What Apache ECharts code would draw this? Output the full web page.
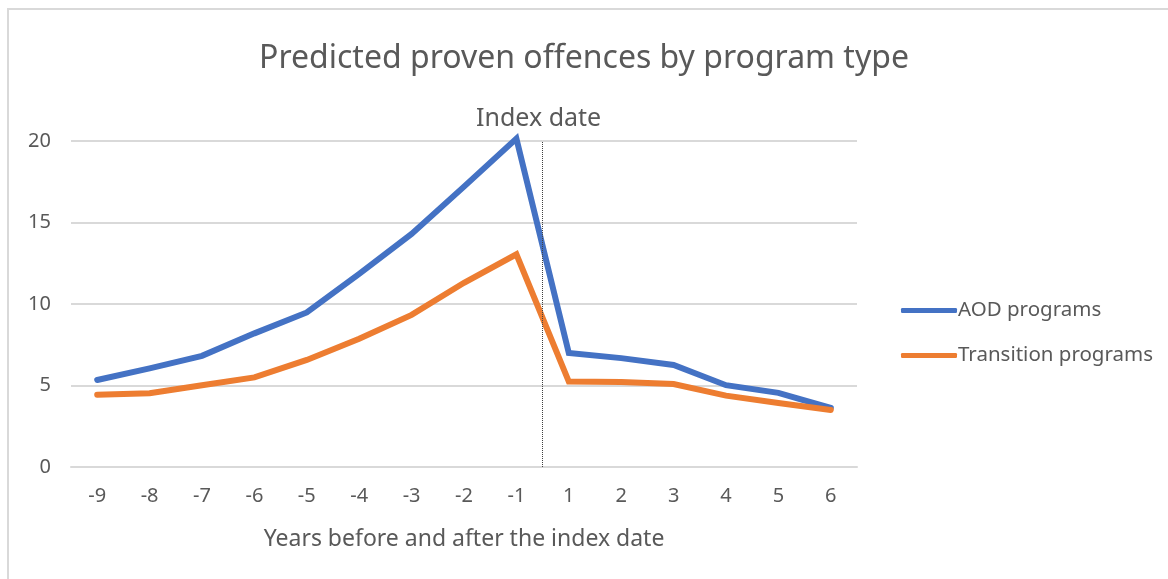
<!DOCTYPE html>
<html>
<head>
<meta charset="utf-8">
<script src="https://cdn.jsdelivr.net/npm/echarts@6/dist/echarts.min.js"></script>
<style>
  html, body { margin: 0; padding: 0; background: #fff; }
  #chart { position: absolute; left: 0; top: 0; width: 1168px; height: 579px; }
  #frame { position: absolute; left: 7px; top: 8px; width: 1170px; height: 580px;
           border-top: 2px solid #d9d9d9; border-left: 2px solid #d9d9d9; pointer-events: none; }
</style>
</head>
<body>
<div id="chart"></div>
<div id="frame"></div>
<script>
var years = ['-9', '-8', '-7', '-6', '-5', '-4', '-3', '-2', '-1', '1', '2', '3', '4', '5', '6'];
var aodPrograms = [5.34, 6.05, 6.82, 8.2, 9.48, 11.85, 14.3, 17.2, 20.15, 6.99, 6.68, 6.26, 5.02, 4.55, 3.62];
var transitionPrograms = [4.44, 4.52, 5.02, 5.5, 6.57, 7.87, 9.33, 11.3, 13.05, 5.24, 5.22, 5.09, 4.38, 3.93, 3.5];
var indexDatePos = 8.5; // between -1 and 1

var textColor = '#595959';
var fontFam = '"Noto Sans", sans-serif';

var myChart = echarts.init(document.getElementById('chart'));

var option = {
    animation: false,
    textStyle: { fontFamily: fontFam, color: textColor },
    title: {
        text: 'Predicted proven offences by program type',
        left: 'center',
        top: 38,
        textStyle: { fontSize: 32, fontWeight: 'normal', color: textColor, fontFamily: fontFam }
    },
    legend: {
        orient: 'vertical',
        left: 896,
        top: 295,
        icon: 'roundRect',
        itemWidth: 56,
        itemHeight: 5,
        itemGap: 24,
        textStyle: { fontSize: 20.5, color: textColor, padding: [0, 0, 0, -4] },
        data: ['AOD programs', 'Transition programs']
    },
    grid: { left: 71, right: 311, top: 141, bottom: 112, containLabel: false },
    xAxis: [{
        type: 'category',
        data: years,
        boundaryGap: true,
        axisLine: { show: true, lineStyle: { color: '#d9d9d9', width: 2 } },
        axisTick: { show: false },
        axisLabel: { fontSize: 20, color: textColor, margin: 19 },
        name: 'Years before and after the index date',
        nameLocation: 'middle',
        nameGap: 61,
        nameTextStyle: { fontSize: 23, color: textColor }
    }, {
        type: 'value',
        min: -0.5,
        max: 14.5,
        show: false
    }],
    yAxis: {
        type: 'value',
        min: 0,
        max: 20,
        interval: 5,
        axisLine: { show: false },
        axisTick: { show: false },
        axisLabel: { fontSize: 20, color: textColor, margin: 20 },
        splitLine: { lineStyle: { color: '#d9d9d9', width: 2 } }
    },
    series: [{
        name: 'AOD programs',
        type: 'line',
        data: aodPrograms,
        color: '#4472C4',
        symbol: 'none',
        clip: false,
        lineStyle: { width: 6, color: '#4472C4', cap: 'round', join: 'miter' }
    }, {
        name: 'Transition programs',
        type: 'line',
        data: transitionPrograms,
        color: '#ED7D31',
        symbol: 'none',
        clip: false,
        lineStyle: { width: 6, color: '#ED7D31', cap: 'round', join: 'miter' }
    }, {
        name: 'Index date',
        type: 'line',
        xAxisIndex: 1,
        data: [],
        markLine: {
            silent: true,
            symbol: ['none', 'none'],
            lineStyle: { color: '#404040', width: 1, type: 'dotted' },
            label: {
                show: true,
                position: 'end',
                formatter: 'Index date',
                fontSize: 25,
                color: textColor,
                fontFamily: fontFam,
                distance: 10,
                offset: [-4, 0]
            },
            data: [{ xAxis: indexDatePos }]
        }
    }]
};

myChart.setOption(option);
</script>
</body>
</html>
